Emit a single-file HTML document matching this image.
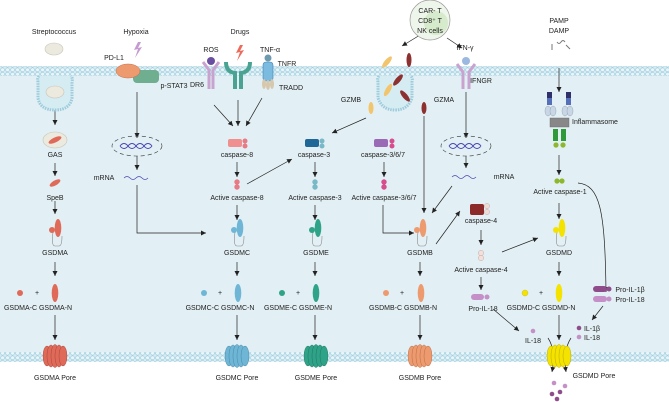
<!DOCTYPE html>
<html><head><meta charset="utf-8"><style>
html,body{margin:0;padding:0;background:#fff}
svg{display:block}
text{font-family:"Liberation Sans",sans-serif;font-size:7px;fill:#222;text-anchor:middle}
</style></head><body>
<svg width="669" height="402" viewBox="0 0 669 402" xmlns="http://www.w3.org/2000/svg">
<defs>
<pattern id="mem" width="5" height="4.5" patternUnits="userSpaceOnUse">
<rect width="5" height="4.5" fill="#d6ecf3"/>
<circle cx="2.5" cy="2.25" r="1.9" fill="#e9f5f9" stroke="#9ccbdc" stroke-width="0.6"/>
</pattern>
<marker id="a" markerWidth="6" markerHeight="6" refX="5" refY="3" orient="auto" markerUnits="userSpaceOnUse"><path d="M0,0.5 L5,3 L0,5.5z" fill="#222"/></marker>
<g id="pore"><ellipse cx="-8" cy="0" rx="4" ry="10"/><ellipse cx="-4" cy="0" rx="4" ry="11"/><ellipse cx="0" cy="0" rx="4" ry="11.5"/><ellipse cx="4" cy="0" rx="4" ry="11"/><ellipse cx="8" cy="0" rx="4" ry="10"/></g>
</defs>
<rect x="0" y="75" width="669" height="280" fill="#e2eff4"/>
<rect x="0" y="66" width="669" height="10" fill="url(#mem)"/>
<rect x="0" y="352" width="669" height="10" fill="url(#mem)"/>
<g stroke="#222" stroke-width="0.7" fill="none" marker-end="url(#a)">
<line x1="55" y1="110" x2="55" y2="125"/><line x1="55" y1="163" x2="55" y2="176"/><line x1="55" y1="201" x2="55" y2="214"/>
<line x1="55" y1="262" x2="55" y2="276"/><line x1="55" y1="315" x2="55" y2="340"/>
<line x1="137" y1="92" x2="137" y2="138"/><line x1="137" y1="156" x2="137" y2="170"/>
<polyline points="137,185 137,233 206,233"/>
<line x1="214" y1="105" x2="233" y2="126"/><line x1="238" y1="100" x2="238" y2="126"/><line x1="262" y1="98" x2="246" y2="126"/>
<line x1="237" y1="162" x2="237" y2="177"/><line x1="247" y1="184" x2="292" y2="159"/><line x1="237" y1="205" x2="237" y2="220"/>
<line x1="315" y1="162" x2="315" y2="177"/><line x1="315" y1="205" x2="315" y2="220"/>
<line x1="237" y1="262" x2="237" y2="276"/><line x1="237" y1="315" x2="237" y2="340"/>
<line x1="315" y1="262" x2="315" y2="276"/><line x1="315" y1="315" x2="315" y2="340"/>
<line x1="366" y1="118" x2="332" y2="133"/>
<line x1="384" y1="162" x2="384" y2="177"/>
<polyline points="383,205 383,233 414,233"/>
<line x1="424" y1="116" x2="424" y2="213"/><line x1="452" y1="186" x2="432" y2="213"/>
<line x1="420" y1="262" x2="420" y2="276"/><line x1="420" y1="315" x2="420" y2="340"/>
<line x1="436" y1="244" x2="460" y2="211"/>
<line x1="420" y1="35" x2="402" y2="46"/><line x1="447" y1="38" x2="462" y2="48"/>
<line x1="466" y1="92" x2="466" y2="138"/><line x1="466" y1="156" x2="466" y2="168"/>
<line x1="481" y1="230" x2="481" y2="245"/><line x1="481" y1="277" x2="481" y2="290"/>
<line x1="502" y1="252" x2="538" y2="238"/>
<line x1="493" y1="309" x2="519" y2="331"/>
<line x1="559" y1="68" x2="559" y2="92"/><line x1="559" y1="155" x2="559" y2="175"/>
<line x1="559" y1="203" x2="559" y2="219"/><line x1="559" y1="262" x2="559" y2="276"/><line x1="559" y1="315" x2="559" y2="340"/>
<path d="M578,183 C600,185 605,210 606,292"/>
<line x1="603" y1="306" x2="592" y2="320"/>
<path d="M548,338 Q556,350 552,372"/><path d="M571,338 Q563,350 566,372"/>
</g>
<!-- streptococcus -->
<ellipse cx="54" cy="49" rx="9" ry="6" fill="#eceadf" stroke="#c8c6b6" stroke-width="0.6"/>
<path d="M39,76 Q37,78 38,82 L38,98 Q40,110 55,110 Q70,110 72,98 L72,82 Q73,78 71,76" fill="#d6ecf3" stroke="#9ccbdc" stroke-width="3" stroke-dasharray="1.5,1"/>
<ellipse cx="55" cy="92" rx="9" ry="6" fill="#eceadf" stroke="#c8c6b6" stroke-width="0.6"/>
<ellipse cx="55" cy="140" rx="12" ry="8" fill="#eceadf" stroke="#c8c6b6" stroke-width="0.6"/>
<ellipse cx="55" cy="140" rx="7" ry="2.5" fill="#e06a5a" transform="rotate(-25 55 140)"/>
<ellipse cx="55" cy="183" rx="6" ry="2.5" fill="#e06a5a" transform="rotate(-30 55 183)"/>
<text x="54" y="34">Streptococcus</text><text x="55" y="157">GAS</text><text x="55" y="200">SpeB</text>
<!-- hypoxia -->
<text x="136" y="34">Hypoxia</text><path d="M138,42 L134,50 L138,49 L135,58 L142,47 L138,48 L141,42z" fill="#c49ad0"/>
<text x="114" y="60">PD-L1</text>
<rect x="133" y="70" width="26" height="13" rx="4" fill="#6fae8f"/>
<ellipse cx="128" cy="71" rx="12" ry="7" fill="#ee9a6f" stroke="#c07050" stroke-width="0.5"/>
<text x="174" y="88">p-STAT3</text>
<ellipse cx="137" cy="146" rx="25" ry="10" fill="none" stroke="#333" stroke-width="0.6" stroke-dasharray="4,3"/>
<path d="M120,146 Q124,141 128,146 T136,146 T144,146 T152,146 M120,146 Q124,151 128,146 T136,146 T144,146 T152,146" stroke="#4a48b0" fill="none" stroke-width="1"/>
<path d="M124,178 q3,-3 6,0 t6,0 t6,0 t6,0" fill="none" stroke="#4a48b0" stroke-width="0.7"/>
<text x="104" y="180">mRNA</text>
<!-- drugs -->
<text x="240" y="34">Drugs</text><text x="211" y="52">ROS</text><text x="270" y="52">TNF-α</text>
<text x="287" y="66">TNFR</text><text x="197" y="87">DR6</text><text x="291" y="90">TRADD</text>
<circle cx="211" cy="61" r="4" fill="#6a4fa0"/>
<path d="M203,62 L209,70 L209,89 M219,62 L213,70 L213,89" stroke="#c9a3cf" stroke-width="3" fill="none"/>
<path d="M226,62 Q226,72 235,73 L235,89 M250,62 Q250,72 241,73 L241,89" stroke="#4aa392" stroke-width="4" fill="none"/>
<path d="M240,45 L236,53 L240,52 L237,61 L244,50 L240,51 L243,45z" fill="#ee6a5a"/>
<circle cx="268" cy="58" r="3.5" fill="#6f9aad"/>
<rect x="263" y="62" width="10" height="19" rx="3" fill="#7bbbe0" stroke="#3c82b8" stroke-width="0.6"/>
<ellipse cx="264" cy="84" rx="2" ry="5" fill="#d6c7ad"/><ellipse cx="268" cy="85" rx="2" ry="5" fill="#d6c7ad"/><ellipse cx="272" cy="84" rx="2" ry="5" fill="#d6c7ad"/>
<!-- caspases -->
<rect x="228" y="139" width="14" height="8" rx="2" fill="#ef8f8f"/><circle cx="245" cy="141" r="2.5" fill="#e77a85"/><circle cx="245" cy="146" r="2.5" fill="#e77a85"/>
<text x="237" y="157">caspase-8</text>
<circle cx="237" cy="182" r="2.7" fill="#e77a85"/><circle cx="237" cy="187" r="2.7" fill="#e77a85"/>
<text x="237" y="200">Active caspase-8</text>
<rect x="305" y="139" width="14" height="8" rx="2" fill="#1f6797"/><circle cx="322" cy="141" r="2.5" fill="#79b8c6"/><circle cx="322" cy="146" r="2.5" fill="#79b8c6"/>
<text x="314" y="157">caspase-3</text>
<circle cx="315" cy="182" r="2.7" fill="#79b8c6"/><circle cx="315" cy="187" r="2.7" fill="#79b8c6"/>
<text x="315" y="200">Active caspase-3</text>
<rect x="374" y="139" width="14" height="8" rx="2" fill="#9b6ab6"/><circle cx="392" cy="141" r="2.5" fill="#d64e8e"/><circle cx="392" cy="146" r="2.5" fill="#d64e8e"/>
<text x="383" y="157">caspase-3/6/7</text>
<circle cx="384" cy="182" r="2.7" fill="#d64e8e"/><circle cx="384" cy="187" r="2.7" fill="#d64e8e"/>
<text x="384" y="200">Active caspase-3/6/7</text>
<!-- CAR-T -->
<circle cx="430" cy="20" r="20" fill="#eef5ea" stroke="#999" stroke-width="0.7"/>
<circle cx="436" cy="23" r="12" fill="#c6e2b8" opacity="0.6"/>
<text x="430" y="13">CAR- T</text><text x="430" y="23">CD8⁺ T</text><text x="430" y="33">NK cells</text>
<text x="465" y="50">IFN-γ</text>
<path d="M379,76 Q377,78 378,82 L378,98 Q382,110 395,110 Q408,110 412,98 L412,82 Q413,78 411,76" fill="#d6ecf3" stroke="#9ccbdc" stroke-width="3" stroke-dasharray="1.5,1"/>
<ellipse cx="387" cy="62" rx="2.5" ry="7" fill="#f2c46b" transform="rotate(40 387 62)"/>
<ellipse cx="409" cy="60" rx="2.5" ry="7" fill="#8c3030"/>
<ellipse cx="398" cy="80" rx="2.5" ry="7" fill="#8c3030" transform="rotate(40 398 80)"/>
<ellipse cx="388" cy="90" rx="2.5" ry="7" fill="#f2c46b" transform="rotate(30 388 90)"/>
<ellipse cx="405" cy="96" rx="2.5" ry="7" fill="#8c3030" transform="rotate(-40 405 96)"/>
<ellipse cx="371" cy="108" rx="2.5" ry="6" fill="#f2c46b"/>
<ellipse cx="424" cy="108" rx="2.5" ry="6" fill="#8c3030"/>
<text x="351" y="102">GZMB</text><text x="444" y="102">GZMA</text>
<circle cx="466" cy="61" r="4" fill="#9ab8e0"/>
<path d="M457,64 L463,72 L463,89 M475,64 L469,72 L469,89" stroke="#c9a3cf" stroke-width="3" fill="none"/>
<text x="481" y="83">IFNGR</text>
<ellipse cx="466" cy="146" rx="25" ry="10" fill="none" stroke="#333" stroke-width="0.6" stroke-dasharray="4,3"/>
<path d="M449,146 Q453,141 457,146 T465,146 T473,146 T481,146 M449,146 Q453,151 457,146 T465,146 T473,146 T481,146" stroke="#4a48b0" fill="none" stroke-width="1"/>
<path d="M452,177 q3,-3 6,0 t6,0 t6,0 t6,0" fill="none" stroke="#4a48b0" stroke-width="0.7"/>
<text x="504" y="179">mRNA</text>
<!-- caspase-4 -->
<rect x="470" y="204" width="14" height="11" rx="2" fill="#8c2a2a"/><circle cx="487" cy="206" r="2.6" fill="#f0dcd6" stroke="#b99" stroke-width="0.4"/><circle cx="487" cy="212" r="2.6" fill="#f0dcd6" stroke="#b99" stroke-width="0.4"/>
<text x="481" y="223">caspase-4</text>
<circle cx="481" cy="253" r="2.7" fill="#f3e0da" stroke="#b99" stroke-width="0.4"/><circle cx="481" cy="258" r="2.7" fill="#f3e0da" stroke="#b99" stroke-width="0.4"/>
<text x="481" y="272">Active caspase-4</text>
<rect x="471" y="294" width="13" height="6" rx="3" fill="#c58fc8"/><circle cx="487" cy="297" r="2.5" fill="#c58fc8"/>
<text x="483" y="311">Pro-IL-18</text>
<circle cx="533" cy="331" r="2.3" fill="#c58fc8"/><text x="533" y="343">IL-18</text>
<!-- inflammasome -->
<text x="559" y="23">PAMP</text><text x="559" y="33">DAMP</text>
<path d="M552,44 v6 M566,45 l4,4 M557,42 q2,3 4,0 q2,-3 4,0" stroke="#777" stroke-width="1" fill="none"/>
<g>
<rect x="547" y="92" width="5" height="6" fill="#2f2f6a"/><rect x="547" y="98" width="5" height="7" fill="#5570b8"/>
<rect x="566" y="92" width="5" height="6" fill="#2f2f6a"/><rect x="566" y="98" width="5" height="7" fill="#5570b8"/>
<ellipse cx="548" cy="111" rx="3" ry="5" fill="#c9d6e6" stroke="#8899aa" stroke-width="0.4"/><ellipse cx="553" cy="111" rx="3" ry="5" fill="#c9d6e6" stroke="#8899aa" stroke-width="0.4"/>
<ellipse cx="565" cy="111" rx="3" ry="5" fill="#c9d6e6" stroke="#8899aa" stroke-width="0.4"/><ellipse cx="570" cy="111" rx="3" ry="5" fill="#c9d6e6" stroke="#8899aa" stroke-width="0.4"/>
<rect x="550" y="118" width="19" height="9" fill="#888" stroke="#666" stroke-width="0.4"/>
<rect x="553" y="129" width="5" height="12" fill="#2f9a3a"/><rect x="561" y="129" width="5" height="12" fill="#2f9a3a"/>
<circle cx="556" cy="145" r="2.6" fill="#8db82e"/><circle cx="563" cy="145" r="2.6" fill="#8db82e"/>
</g>
<text x="595" y="124">Inflammasome</text>
<circle cx="557" cy="181" r="2.6" fill="#8db82e"/><circle cx="562" cy="181" r="2.6" fill="#8db82e"/>
<text x="560" y="194">Active caspase-1</text>
<rect x="593" y="286" width="14" height="6" rx="3" fill="#8e4c8a"/><circle cx="609" cy="289" r="2.5" fill="#8e4c8a"/>
<rect x="593" y="296" width="14" height="6" rx="3" fill="#c58fc8"/><circle cx="609" cy="299" r="2.5" fill="#c58fc8"/>
<text x="630" y="292">Pro-IL-1β</text><text x="630" y="302">Pro-IL-18</text>
<circle cx="579" cy="328" r="2.3" fill="#8e4c8a"/><circle cx="579" cy="337" r="2.3" fill="#c58fc8"/>
<text x="592" y="331">IL-1β</text><text x="592" y="340">IL-18</text>
<!-- GSDMs -->
<g stroke-width="0.6">
<path d="M53,232 q-2,14 2,14 h4 q3,0 3,-10" fill="none" stroke="#888"/>
<circle cx="52" cy="230" r="3" fill="#e06a5a"/><ellipse cx="58" cy="228" rx="3.3" ry="9" fill="#e06a5a"/>
<path d="M235,232 q-2,14 2,14 h4 q3,0 3,-10" fill="none" stroke="#888"/>
<circle cx="234" cy="230" r="3" fill="#6fb6d6"/><ellipse cx="240" cy="228" rx="3.3" ry="9" fill="#6fb6d6"/>
<path d="M313,232 q-2,14 2,14 h4 q3,0 3,-10" fill="none" stroke="#888"/>
<circle cx="312" cy="230" r="3" fill="#2fa388"/><ellipse cx="318" cy="228" rx="3.3" ry="9" fill="#2fa388"/>
<path d="M418,232 q-2,14 2,14 h4 q3,0 3,-10" fill="none" stroke="#888"/>
<circle cx="417" cy="230" r="3" fill="#ee9a6f"/><ellipse cx="423" cy="228" rx="3.3" ry="9" fill="#ee9a6f"/>
<path d="M557,232 q-2,14 2,14 h4 q3,0 3,-10" fill="none" stroke="#888"/>
<circle cx="556" cy="230" r="3" fill="#f4e200"/><ellipse cx="562" cy="228" rx="3.3" ry="9" fill="#f4e200"/>
</g>
<text x="55" y="255">GSDMA</text><text x="237" y="255">GSDMC</text><text x="316" y="255">GSDME</text><text x="420" y="255">GSDMB</text><text x="559" y="255">GSDMD</text>
<!-- fragments -->
<circle cx="20" cy="293" r="3" fill="#e06a5a"/><text x="37" y="295">+</text><ellipse cx="55" cy="293" rx="3.3" ry="9" fill="#e06a5a"/>
<circle cx="204" cy="293" r="3" fill="#6fb6d6"/><text x="220" y="295">+</text><ellipse cx="238" cy="293" rx="3.3" ry="9" fill="#6fb6d6"/>
<circle cx="282" cy="293" r="3" fill="#2fa388"/><text x="298" y="295">+</text><ellipse cx="316" cy="293" rx="3.3" ry="9" fill="#2fa388"/>
<circle cx="386" cy="293" r="3" fill="#ee9a6f"/><text x="402" y="295">+</text><ellipse cx="421" cy="293" rx="3.3" ry="9" fill="#ee9a6f"/>
<circle cx="525" cy="293" r="3" fill="#f4e200" stroke="#b8a800" stroke-width="0.3"/><text x="541" y="295">+</text><ellipse cx="559" cy="293" rx="3.3" ry="9" fill="#f4e200"/>
<text x="38" y="310">GSDMA-C GSDMA-N</text><text x="220" y="310">GSDMC-C GSDMC-N</text><text x="298" y="310">GSDME-C GSDME-N</text><text x="403" y="310">GSDMB-C GSDMB-N</text><text x="541" y="310">GSDMD-C GSDMD-N</text>
<!-- pores -->
<g fill="#e06a5a" stroke="#9a3a30" stroke-width="0.4"><use href="#pore" x="55" y="356"/></g>
<g fill="#6fb6d6" stroke="#3a7a98" stroke-width="0.4"><use href="#pore" x="237" y="356"/></g>
<g fill="#2fa388" stroke="#1a6a58" stroke-width="0.4"><use href="#pore" x="316" y="356"/></g>
<g fill="#ee9a6f" stroke="#a8603a" stroke-width="0.4"><use href="#pore" x="420" y="356"/></g>
<g fill="#f4e200" stroke="#a89a00" stroke-width="0.4"><use href="#pore" x="559" y="356"/></g>
<text x="55" y="380">GSDMA Pore</text><text x="237" y="380">GSDMC Pore</text><text x="316" y="380">GSDME Pore</text><text x="420" y="380">GSDMB Pore</text><text x="594" y="378">GSDMD Pore</text>
<circle cx="554" cy="383" r="2.3" fill="#c58fc8"/><circle cx="565" cy="386" r="2.3" fill="#c58fc8"/><circle cx="552" cy="394" r="2.3" fill="#8e4c8a"/><circle cx="560" cy="392" r="2.3" fill="#8e4c8a"/><circle cx="557" cy="399" r="2.3" fill="#8e4c8a"/>
</svg>
</body></html>
